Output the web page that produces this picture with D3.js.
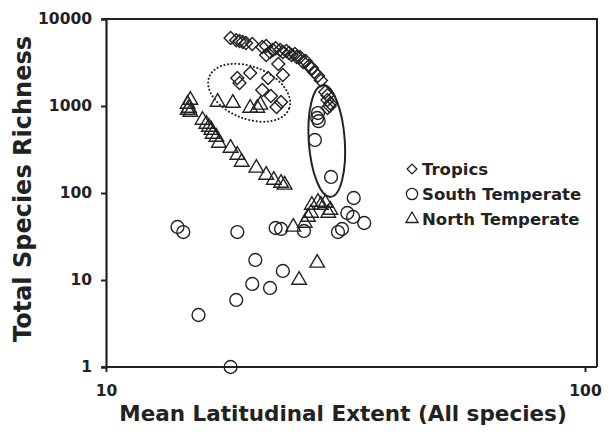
<!DOCTYPE html>
<html>
<head>
<meta charset="utf-8">
<script src="https://cdn.jsdelivr.net/npm/d3@7"></script>
<style>
  body { margin: 0; background: #fff; }
  text { font-family: "DejaVu Sans", Verdana, sans-serif; font-weight: bold; fill: #222; }
</style>
</head>
<body>
<script>
// values
const tropicsX = [18.2, 18.7, 19.0, 19.3, 19.6, 20.2, 21.2, 21.6, 22.0, 22.3, 22.6, 23.1, 23.4, 23.8,
  24.1, 24.4, 24.8, 25.0, 25.4, 25.8, 26.1, 26.5, 26.9, 27.2, 27.7, 28.1, 28.7, 29.0, 29.0, 29.4, 29.0, 29.3,
  18.8, 20.0, 19.0, 21.8, 23.4, 21.2, 22.1, 23.2, 22.7, 21.6, 22.9];
const tropicsY = [6050, 5700, 5590, 5440, 5300, 5170, 4770, 4900, 4180, 4400, 4620, 4400, 4180, 4290,
  4070, 3860, 3960, 3660, 3660, 3210, 3290, 2880, 2730, 2460, 2230, 1970, 1450, 1330, 1170, 1070, 950, 1000,
  2100, 2400, 1840, 2100, 2270, 1530, 1300, 1110, 975, 3860, 3040];

const southX = [27.7, 27.6, 27.8, 27.3, 29.5, 14.1, 14.5, 18.8, 22.6, 23.2, 25.9, 30.5, 31.1, 31.9,
  32.8, 34.6, 32.9, 20.5, 23.4, 20.2, 22.0, 18.7, 15.6, 18.2];
const southY = [830, 728, 670, 407, 153, 40.7, 35.6, 35.6, 39.6, 38.6, 36.6, 35.6, 38.6, 58.9,
  53, 45.2, 87.6, 17, 12.7, 9.0, 8.1, 5.9, 3.96, 1.0];

const northX = [15.0, 14.8, 14.9, 15.0, 14.8, 15.9, 16.2, 16.4, 16.6, 16.7, 17.0, 17.2, 18.2, 18.8,
  19.2, 20.6, 21.6, 22.4, 23.2, 23.6, 17.1, 18.4, 20.0, 21.0, 20.7,
  26.9, 27.7, 28.7, 28.1, 29.1, 29.4, 26.4, 26.0, 26.8, 24.6, 27.6, 25.3];
const northY = [1170, 1055, 948, 853, 900, 690, 621, 574, 530, 477, 440, 375, 329, 273,
  227, 194, 161, 141, 130, 124, 1110, 1080, 948, 1030, 948,
  72.8, 78.8, 76.7, 72.8, 58.9, 63.8, 53, 45.2, 58.9, 40.7, 15.7, 10];

const xTicks = [10, 100];
const yTicks = [1, 10, 100, 1000, 10000];
const legendLabels = ["Tropics", "South Temperate", "North Temperate"];

const W = 616, H = 439;
const x = d3.scaleLog().domain([10, 100]).range([106, 585]);
const y = d3.scaleLog().domain([1, 10000]).range([367, 19]);

const svg = d3.select("body").append("svg")
  .attr("width", W).attr("height", H);

const ink = "#222";

// plot frame (top and right)
svg.append("line")
  .attr("x1", 102).attr("x2", 597).attr("y1", y(10000)).attr("y2", y(10000))
  .attr("stroke", ink).attr("stroke-width", 2);
svg.append("line")
  .attr("x1", 597).attr("x2", 597).attr("y1", y(10000) - 1).attr("y2", y(1))
  .attr("stroke", ink).attr("stroke-width", 2);

// axes
const yAxis = svg.append("g")
  .attr("transform", `translate(${x(10)},0)`)
  .call(d3.axisLeft(y).tickValues(yTicks).tickFormat(d3.format("d")).tickSize(5).tickPadding(9));
const xAxis = svg.append("g")
  .attr("transform", `translate(0,${y(1)})`)
  .call(d3.axisBottom(x).tickValues(xTicks).tickFormat(d3.format("d")).tickSize(5).tickPadding(13));

[xAxis, yAxis].forEach(g => {
  g.select(".domain").attr("stroke", ink).attr("stroke-width", 2.2);
  g.selectAll(".tick line").attr("stroke", ink).attr("stroke-width", 2);
  g.selectAll(".tick text").attr("font-size", 15.5).attr("fill", ink)
    .style("font-family", "'DejaVu Sans', Verdana, sans-serif").style("font-weight", "bold");
});
xAxis.select(".domain").attr("d", `M${x(10) - 4},0H597`);

// annotation ellipses
const solidC = [28.9, 396];
svg.append("ellipse")
  .attr("cx", x(solidC[0])).attr("cy", y(solidC[1]))
  .attr("rx", 18).attr("ry", 56)
  .attr("transform", `rotate(-4 ${x(solidC[0])} ${y(solidC[1])})`)
  .attr("fill", "none").attr("stroke", ink).attr("stroke-width", 2);

const dotC = [19.9, 1420];
svg.append("ellipse")
  .attr("cx", x(dotC[0])).attr("cy", y(dotC[1]))
  .attr("rx", 43).attr("ry", 26)
  .attr("transform", `rotate(22 ${x(dotC[0])} ${y(dotC[1])})`)
  .attr("fill", "none").attr("stroke", ink).attr("stroke-width", 2)
  .attr("stroke-dasharray", "0.1 3.6").attr("stroke-linecap", "round");

// markers
const sym = {
  diamond: d3.symbol().type(d3.symbolSquare).size(84),
  circle: d3.symbol().type(d3.symbolCircle).size(130),
  triangle: d3.symbol().type(d3.symbolTriangle).size(92)
};

function plot(xs, ys, shape, rot) {
  svg.append("g").selectAll("path")
    .data(xs.map((v, i) => [v, ys[i]]))
    .join("path")
    .attr("d", sym[shape]())
    .attr("transform", d => `translate(${x(d[0])},${y(d[1])}) rotate(${rot})`)
    .attr("fill", "none")
    .attr("stroke", ink)
    .attr("stroke-width", 1.4);
}
plot(southX, southY, "circle", 0);
plot(northX, northY, "triangle", 0);
plot(tropicsX, tropicsY, "diamond", 45);

// legend
const legendSym = [
  d3.symbol().type(d3.symbolSquare).size(48)(),
  d3.symbol().type(d3.symbolCircle).size(100)(),
  d3.symbol().type(d3.symbolTriangle).size(64)()
];
const legend = svg.append("g").attr("transform", "translate(412,169)");
legendLabels.forEach((lab, i) => {
  const row = legend.append("g").attr("transform", `translate(0,${i * 25})`);
  row.append("path").attr("d", legendSym[i])
    .attr("transform", i === 0 ? "rotate(45)" : null)
    .attr("fill", "none").attr("stroke", ink).attr("stroke-width", 1.3);
  row.append("text").attr("x", 10).attr("y", 6).attr("font-size", 16.5).text(lab);
});

// axis titles
svg.append("text")
  .attr("x", 343).attr("y", 421)
  .attr("text-anchor", "middle").attr("font-size", 21.5)
  .text("Mean Latitudinal Extent (All species)");
svg.append("text")
  .attr("transform", "translate(31,189) rotate(-90)")
  .attr("text-anchor", "middle").attr("font-size", 24)
  .text("Total Species Richness");
</script>
</body>
</html>
